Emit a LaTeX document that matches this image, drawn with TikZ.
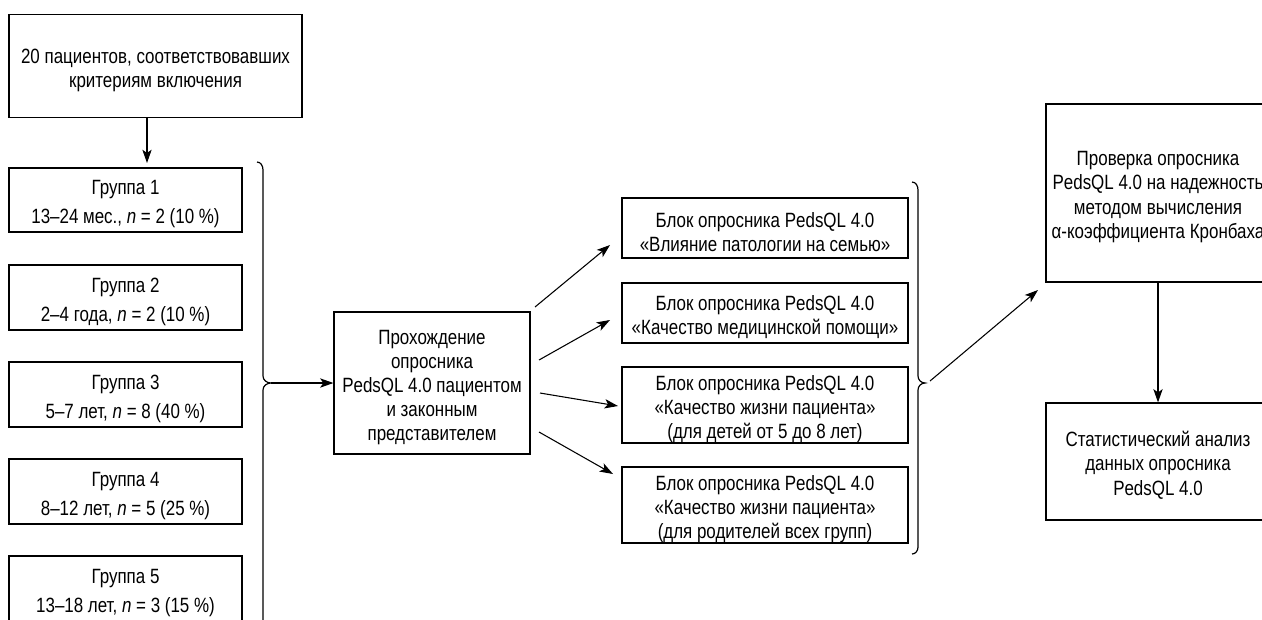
\documentclass[tikz,border=0pt]{standalone}
\usepackage{fontspec}
\setmainfont{Liberation Sans}[FakeStretch=0.82]
\usetikzlibrary{arrows.meta}
% taller first line, so that the text sits a little lower in its box
\newcommand\firststrut{\rule{0pt}{17pt}}
\begin{document}
\begin{tikzpicture}[x=0.75pt,y=-0.75pt,
  box/.style={draw, line width=0.9pt, align=center, inner sep=0pt,
    font=\fontsize{15.5pt}{18pt}\selectfont},
  grp/.style={box, font=\fontsize{15.5pt}{22pt}\selectfont},
  wide/.style={box, font=\fontsize{15.5pt}{18.3pt}\selectfont},
  sz/.style 2 args={minimum width=#1*0.75pt, minimum height=#2*0.75pt},
  arr/.style={line width=0.8pt, -{Stealth[length=10pt,width=7pt,inset=2.5pt]}},
  brace/.style={line width=0.9pt}]
\useasboundingbox (0,0) rectangle (1262,619);
\clip (0,0) rectangle (1262,619);
\fill[white] (0,0) rectangle (1262,619);

% patients and age groups
\node[box, sz={293}{103}] (top) at (155.5,66) {\firststrut 20 пациентов, соответствовавших\\критериям включения};
\node[grp, sz={233}{64}] (g1) at (125.5,200) {\firststrut Группа 1\\13–24 мес., \textit{n} = 2 (10 \%)};
\node[grp, sz={233}{65}] (g2) at (125.5,297.5) {\firststrut Группа 2\\2–4 года, \textit{n} = 2 (10 \%)};
\node[grp, sz={233}{65}] (g3) at (125.5,394.5) {\firststrut Группа 3\\5–7 лет, \textit{n} = 8 (40 \%)};
\node[grp, sz={233}{65}] (g4) at (125.5,491.5) {\firststrut Группа 4\\8–12 лет, \textit{n} = 5 (25 \%)};
\node[grp, sz={233}{65}] (g5) at (125.5,588.5) {\firststrut Группа 5\\13–18 лет, \textit{n} = 3 (15 \%)};

% questionnaire
\node[box, sz={196}{142}] (proh) at (432,383) {\firststrut Прохождение\\опросника\\PedsQL 4.0 пациентом\\и законным\\представителем};

% questionnaire blocks
\node[box, sz={286}{60}] (b1) at (765,228) {\firststrut Блок опросника PedsQL 4.0\\«Влияние патологии на семью»};
\node[box, sz={286}{60}] (b2) at (765,313) {\firststrut Блок опросника PedsQL 4.0\\«Качество медицинской помощи»};
\node[box, sz={286}{76}] (b3) at (765,405) {\firststrut Блок опросника PedsQL 4.0\\«Качество жизни пациента»\\(для детей от 5 до 8 лет)};
\node[box, sz={286}{76}] (b4) at (765,505) {\firststrut Блок опросника PedsQL 4.0\\«Качество жизни пациента»\\(для родителей всех групп)};

% analysis
\node[wide, sz={224}{178}] (prov) at (1158,193) {\firststrut Проверка опросника\\PedsQL 4.0 на надежность\\методом вычисления\\α-коэффициента Кронбаха};
\node[wide, sz={224}{117}] (stat) at (1158,461.5) {\firststrut Статистический анализ\\данных опросника\\PedsQL 4.0};

% braces
\draw[brace] (257,162) to[out=0,in=90] (263,170) -- (263,376)
  to[out=-90,in=180] (271,383) to[out=180,in=90] (263,390) -- (263,640);
\coordinate (lb) at (271,383);
\draw[brace] (912,182) to[out=0,in=90] (918,190) -- (918,376)
  to[out=-90,in=180] (925,383) to[out=180,in=90] (918,390) -- (918,547)
  to[out=-90,in=0] (912,554);

% connector ends
\coordinate (a0) at (147,163);
\coordinate (s1) at (535,307); \coordinate (e1) at (610,245);
\coordinate (s2) at (539,360); \coordinate (e2) at (610,320);
\coordinate (s3) at (540,393); \coordinate (e3) at (618,406);
\coordinate (s4) at (539,432); \coordinate (e4) at (613,474);
\coordinate (rb) at (930,381); \coordinate (e5) at (1038,290);

\draw[arr] (top.south -| a0) -- (a0);
\draw[arr] (lb) -- (proh.west);
\draw[arr] (s1) -- (e1);
\draw[arr] (s2) -- (e2);
\draw[arr] (s3) -- (e3);
\draw[arr] (s4) -- (e4);
\draw[arr] (rb) -- (e5);
\draw[arr] (prov.south) -- (stat.north);
\end{tikzpicture}
\end{document}
